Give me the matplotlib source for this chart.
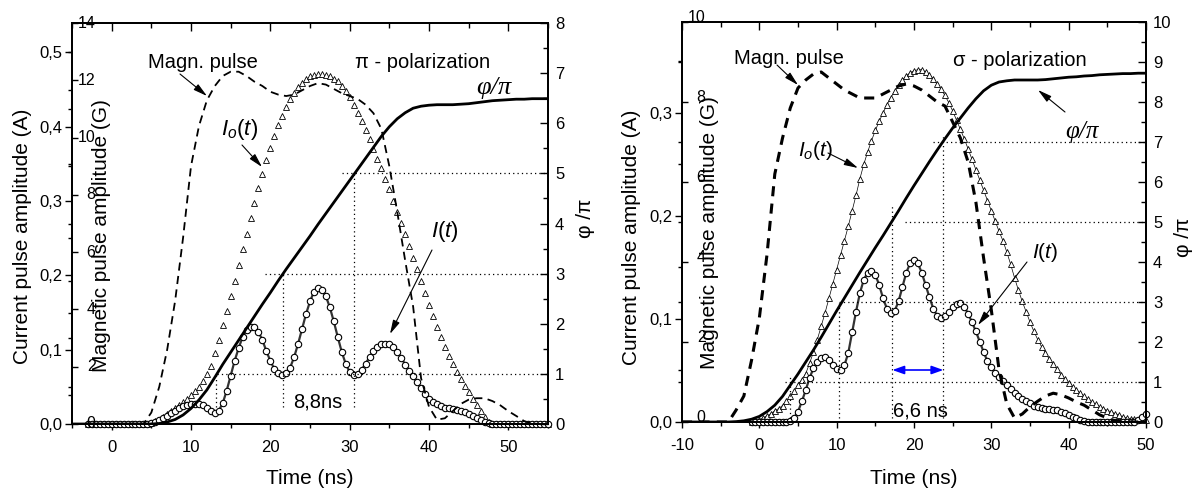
import numpy as np
import matplotlib
matplotlib.use('Agg')
import matplotlib.pyplot as plt
from matplotlib.ticker import MultipleLocator, FuncFormatter
from matplotlib.patches import FancyArrowPatch

plt.rcParams['font.family'] = ['Liberation Sans', 'DejaVu Sans']
plt.rcParams['mathtext.fontset'] = 'custom'
plt.rcParams['mathtext.rm'] = 'Liberation Sans'
plt.rcParams['mathtext.it'] = 'Liberation Sans:italic'
plt.rcParams['axes.linewidth'] = 1.2

W, H = 1196, 493

# ---------------- data: left panel (pi - polarization) ----------------
t_left_pts = np.arange(-3.0, 55.01, 0.5)
I0_left = [
    0, 0, 0, 0, 0, 0, 0, 0, 0, 0, 0, 0, 0, 0, 0, 0,
    0.002, 0.004, 0.006, 0.010, 0.014, 0.018, 0.022, 0.026, 0.030, 0.034,
    0.039, 0.044, 0.050, 0.058, 0.067, 0.078, 0.095, 0.113, 0.133, 0.152,
    0.172, 0.193, 0.214, 0.235, 0.256, 0.277, 0.298, 0.318, 0.337, 0.355,
    0.372, 0.388, 0.402, 0.415, 0.427, 0.437, 0.446, 0.453, 0.459, 0.464,
    0.468, 0.470, 0.471, 0.471, 0.470, 0.468, 0.465, 0.461, 0.455, 0.448,
    0.440, 0.430, 0.419, 0.408, 0.396, 0.383, 0.370, 0.357, 0.344, 0.330,
    0.316, 0.300, 0.285, 0.270, 0.256, 0.240, 0.224, 0.208, 0.192, 0.176,
    0.160, 0.145, 0.130, 0.117, 0.104, 0.092, 0.081, 0.070, 0.060, 0.051,
    0.043, 0.034, 0.025, 0.017, 0.009, 0.003,
    0, 0, 0, 0, 0, 0, 0, 0, 0, 0, 0, 0, 0, 0, 0]
I_left = [
    0, 0, 0, 0, 0, 0, 0, 0, 0, 0, 0, 0, 0, 0, 0, 0,
    0.001, 0.003, 0.005, 0.008, 0.011, 0.015, 0.018, 0.021, 0.024, 0.026,
    0.027, 0.027, 0.027, 0.025, 0.021, 0.017, 0.015, 0.018, 0.028, 0.045,
    0.065, 0.085, 0.102, 0.117, 0.127, 0.131, 0.130, 0.124, 0.113, 0.098,
    0.085, 0.074, 0.068, 0.066, 0.068, 0.076, 0.090, 0.108, 0.128, 0.148,
    0.165, 0.178, 0.183, 0.181, 0.172, 0.157, 0.138, 0.117, 0.097, 0.081,
    0.070, 0.066, 0.067, 0.073, 0.081, 0.090, 0.098, 0.104, 0.107, 0.108,
    0.107, 0.104, 0.097, 0.089, 0.080, 0.072, 0.064, 0.056, 0.048, 0.041,
    0.034, 0.030, 0.027, 0.024, 0.022, 0.021, 0.020, 0.019, 0.018, 0.016,
    0.014, 0.011, 0.008, 0.005, 0.003, 0.001,
    0, 0, 0, 0, 0, 0, 0, 0, 0, 0, 0, 0, 0, 0, 0]
t_left_line = np.arange(-5.0, 55.01, 1.0)
mag_left = [
    0, 0, 0, 0, 0, 0, 0, 0, 0,
    0.0, 0.4, 1.3, 2.6, 4.3, 6.5, 9.0, 10.4, 11.3, 11.8,
    12.15, 12.3, 12.3, 12.15, 11.95, 11.8, 11.6, 11.5, 11.45, 11.5,
    11.65, 11.8, 11.9, 11.85, 11.7, 11.55, 11.45, 11.35, 11.15, 10.85,
    10.3, 9.0, 7.4, 5.7, 4.1, 1.6, 0.6, 0.15, 0.2, 0.45,
    0.7, 0.85, 0.9, 0.9, 0.8, 0.65, 0.45, 0.28, 0.1, 0.02,
    0, 0]
phi_left = [
    0, 0, 0, 0, 0, 0, 0, 0, 0, 0,
    0.0, 0.01, 0.04, 0.09, 0.18, 0.31, 0.48, 0.68, 0.93, 1.19,
    1.43, 1.67, 1.91, 2.15, 2.39, 2.62, 2.86, 3.09, 3.31, 3.53,
    3.75, 3.98, 4.20, 4.42, 4.64, 4.86, 5.08, 5.30, 5.52, 5.74,
    5.93, 6.09, 6.21, 6.30, 6.34, 6.36, 6.37, 6.37, 6.37, 6.38,
    6.39, 6.41, 6.43, 6.45, 6.46, 6.47, 6.48, 6.48, 6.49, 6.49,
    6.49]

# ---------------- data: right panel (sigma - polarization) ----------------
t_right_pts = np.arange(-1.0, 50.01, 0.5)
I0_right = [
    0, 0.001, 0.002, 0.004, 0.006, 0.008, 0.011, 0.013, 0.016, 0.020,
    0.025, 0.030, 0.036, 0.041, 0.047, 0.057, 0.068, 0.080, 0.093, 0.106,
    0.120, 0.134, 0.148, 0.162, 0.176, 0.190, 0.205, 0.220, 0.236, 0.250,
    0.262, 0.273, 0.283, 0.292, 0.300, 0.308, 0.315, 0.321, 0.327, 0.332,
    0.336, 0.339, 0.341, 0.342, 0.342, 0.340, 0.337, 0.333, 0.328, 0.323,
    0.317, 0.310, 0.302, 0.293, 0.284, 0.275, 0.265, 0.255, 0.245, 0.235,
    0.225, 0.215, 0.205, 0.195, 0.185, 0.176, 0.165, 0.153, 0.140, 0.128,
    0.117, 0.107, 0.097, 0.088, 0.080, 0.073, 0.067, 0.061, 0.056, 0.051,
    0.046, 0.042, 0.038, 0.034, 0.031, 0.028, 0.025, 0.022, 0.019, 0.017,
    0.015, 0.013, 0.011, 0.010, 0.008, 0.007, 0.005, 0.004, 0.003, 0.003,
    0.002, 0.002, 0.002]
I_right = [
    0, 0, 0, 0, 0, 0, 0, 0, 0, 0,
    0.001, 0.004, 0.010, 0.020, 0.031, 0.043, 0.052, 0.058, 0.062, 0.063,
    0.060, 0.055, 0.051, 0.050, 0.055, 0.067, 0.087, 0.107, 0.125, 0.138,
    0.145, 0.147, 0.143, 0.133, 0.120, 0.110, 0.106, 0.108, 0.117, 0.131,
    0.145, 0.154, 0.157, 0.154, 0.145, 0.133, 0.121, 0.110, 0.103, 0.101,
    0.103, 0.107, 0.112, 0.115, 0.116, 0.112, 0.105, 0.097, 0.088, 0.078,
    0.068, 0.059, 0.053, 0.048, 0.044, 0.040, 0.036, 0.032, 0.028, 0.025,
    0.022, 0.020, 0.018, 0.016, 0.015, 0.014, 0.013, 0.013, 0.012, 0.012,
    0.010, 0.009, 0.007, 0.005, 0.004, 0.002, 0.001, 0, 0, 0,
    0, 0, 0, 0, 0, 0, 0, 0, 0, 0,
    0.002, 0.005, 0.008]
t_right_line = np.arange(-10.0, 50.01, 1.0)
mag_right = [
    0, 0, 0, 0, 0, 0, 0, 0.3, 0.65, 1.55,
    2.6, 4.2, 6.2, 7.1, 7.85, 8.35, 8.55, 8.7, 8.75, 8.6,
    8.45, 8.3, 8.2, 8.1, 8.1, 8.1, 8.2, 8.3, 8.4, 8.45,
    8.4, 8.3, 8.15, 8.0, 7.9, 7.5, 7.1, 6.5, 5.5, 4.1,
    2.8, 1.3, 0.45, 0.1, 0.2, 0.38, 0.52, 0.65, 0.72, 0.68,
    0.6, 0.5, 0.42, 0.3, 0.18, 0.1, 0.03, 0, 0, 0,
    0]
phi_right = [
    0, 0, 0, 0, 0, 0, 0, 0.01, 0.03, 0.07,
    0.14, 0.26, 0.42, 0.64, 0.92, 1.2, 1.5, 1.8, 2.12, 2.45,
    2.78, 3.1, 3.42, 3.74, 4.05, 4.36, 4.66, 4.97, 5.28, 5.6,
    5.91, 6.21, 6.51, 6.8, 7.08, 7.35, 7.6, 7.85, 8.08, 8.28,
    8.42, 8.5, 8.53, 8.55, 8.55, 8.55, 8.55, 8.56, 8.58, 8.6,
    8.62, 8.63, 8.65, 8.66, 8.68, 8.69, 8.7, 8.71, 8.71, 8.72,
    8.72]

# dotted guide lines (time of phase crossings, phase levels)
left_vline_t = [13.2, 21.6, 30.6]
left_vline_top = [1.0, 3.0, 5.0]
left_hline_phi = [1, 3, 5]
left_hline_start = [13.3, 19.3, 29.0]
right_vline_t = [4.0, 10.3, 17.2, 23.8]
right_vline_top = [1.12, 3.0, 5.4, 7.2]
right_hline_phi = [1, 3, 5, 7]
right_hline_start = [3.3, 10.3, 18.8, 22.4]

comma = FuncFormatter(lambda v, p: f'{v:.1f}'.replace('.', ','))
intfmt = FuncFormatter(lambda v, p: f'{v:.0f}')

fig = plt.figure(figsize=(W / 100, H / 100), dpi=100)


def make_panel(rect, xlim, cur_max, mag_max, phi_max, mag_va, cur_lab, mag_lab, phi_lab, xlab_y):
    ax = fig.add_axes(rect)
    ax.set_xlim(*xlim)
    ax.set_ylim(0, cur_max)
    ax.xaxis.set_major_locator(MultipleLocator(10))
    ax.xaxis.set_minor_locator(MultipleLocator(5))
    ax.xaxis.set_major_formatter(intfmt)
    ax.yaxis.set_major_locator(MultipleLocator(0.1))
    ax.yaxis.set_minor_locator(MultipleLocator(0.05))
    ax.yaxis.set_major_formatter(comma)
    ax.tick_params(axis='x', which='both', direction='out', top=False, labelsize=12, pad=7, width=1)
    ax.tick_params(axis='x', which='major', length=4.5)
    ax.tick_params(axis='x', which='minor', length=3)
    ax.tick_params(axis='y', which='both', direction='out', right=False, labelsize=12, pad=2, width=1)
    ax.tick_params(axis='y', which='major', length=5)
    ax.tick_params(axis='y', which='minor', length=3)
    ax.set_xlabel('Time (ns)', fontsize=15, va='center')
    ax.xaxis.set_label_coords(0.5, xlab_y)
    ax.set_ylabel('Current pulse amplitude (A)', fontsize=15, va='center')
    ax.yaxis.set_label_coords(*cur_lab)

    axm = ax.twinx()
    axm.set_ylim(0, mag_max)
    axm.yaxis.tick_left()
    axm.yaxis.set_label_position('left')
    axm.yaxis.set_major_locator(MultipleLocator(2))
    axm.yaxis.set_minor_locator(MultipleLocator(1))
    axm.yaxis.set_major_formatter(intfmt)
    axm.tick_params(axis='y', which='major', direction='in', length=4, width=1, labelsize=11.5, pad=-17)
    axm.tick_params(axis='y', which='minor', direction='out', length=3, width=1)
    axm.set_ylabel('Magnetic pulse amplitude (G)', fontsize=15, va='center')
    axm.yaxis.set_label_coords(*mag_lab)
    for lab in axm.get_yticklabels():
        lab.set_verticalalignment(mag_va)

    axp = ax.twinx()
    axp.set_ylim(0, phi_max)
    axp.yaxis.set_major_locator(MultipleLocator(1))
    axp.yaxis.set_minor_locator(MultipleLocator(0.5))
    axp.yaxis.set_major_formatter(intfmt)
    axp.tick_params(axis='y', which='major', direction='in', length=5.5, width=1, labelsize=12, pad=5)
    axp.tick_params(axis='y', which='minor', direction='in', length=3.5, width=1)
    axp.xaxis.set_visible(True)
    axp.xaxis.set_major_locator(MultipleLocator(10))
    axp.xaxis.set_minor_locator(MultipleLocator(5))
    axp.tick_params(axis='x', which='both', direction='in', bottom=False, top=True,
                    labelbottom=False, labeltop=False, width=1)
    axp.tick_params(axis='x', which='major', length=5.5)
    axp.tick_params(axis='x', which='minor', length=3.5)
    axp.set_ylabel('φ /π', fontsize=15, rotation=90, va='center')
    axp.yaxis.set_label_coords(*phi_lab)
    return ax, axm, axp


# ---------------- left panel ----------------
axL, axLm, axLp = make_panel([72 / W, 1 - 424 / H, 476 / W, 401 / H], (-5, 55), 0.5397, 14, 8, 'center',
                             (-0.105, 0.469), (0.063, 0.469), (1.078, 0.514), -0.135)
axL.plot(t_left_pts, I0_left, ls='none', marker='^', ms=4.8, mfc='white', mec='k', mew=0.6, clip_on=False)
axL.plot(t_left_pts, I_left, color='#333333', lw=1.6, marker='o', ms=4.6, mfc='white', mec='k', mew=0.8,
         clip_on=False)
axLm.plot(t_left_line, mag_left, color='k', lw=1.3, dashes=(4.5, 3.0))
axLp.plot(t_left_line, phi_left, color='k', lw=2.0)
axLp.vlines(left_vline_t, 0.34, left_vline_top, colors='k', lw=0.9, linestyles=(0, (1, 2.5)))
axLp.hlines(left_hline_phi, left_hline_start, 55, colors='k', lw=0.9, linestyles=(0, (1, 2.5)))

# ---------------- right panel ----------------
axR, axRm, axRp = make_panel([682 / W, 1 - 422 / H, 464 / W, 400 / H], (-10, 50), 0.3883, 10, 10, 'baseline',
                             (-0.108, 0.4625), (0.060, 0.4725), (1.080, 0.4625), -0.14)
axR.plot(t_right_pts, I0_right, color='k', lw=0.5, marker='^', ms=4.2, mfc='white', mec='k', mew=0.6,
         clip_on=False)
axR.plot(t_right_pts, I_right, color='#333333', lw=1.6, marker='o', ms=4.6, mfc='white', mec='k', mew=0.8,
         clip_on=False)
axRm.plot(t_right_line, mag_right, color='k', lw=2.2, dashes=(3.3, 2.4))
axRp.plot(t_right_line, phi_right, color='k', lw=2.0)
axRp.vlines(right_vline_t, 0.1, right_vline_top, colors='k', lw=0.9, linestyles=(0, (1, 2.5)))
axRp.hlines(right_hline_phi, right_hline_start, 50, colors='k', lw=0.9, linestyles=(0, (1, 2.5)))
axRp.annotate('', xy=(right_vline_t[3], 1.3), xytext=(right_vline_t[2], 1.3),
              arrowprops=dict(arrowstyle='<|-|>,head_length=0.7,head_width=0.25', color='#0000ff',
                              lw=1.2, shrinkA=0, shrinkB=0, mutation_scale=10))


# ---------------- annotations (figure pixel positions) ----------------
def ftext(x, y, s, **kw):
    fig.text(x / W, 1 - y / H, s, ha='center', va='center', **kw)


def farrow(x0, y0, x1, y1):
    fig.add_artist(FancyArrowPatch((x0 / W, 1 - y0 / H), (x1 / W, 1 - y1 / H), transform=fig.transFigure,
                                   arrowstyle='-|>,head_length=0.7,head_width=0.18', mutation_scale=12,
                                   lw=0.8, color='k', shrinkA=0, shrinkB=0))


# left
ftext(203, 62, 'Magn. pulse', fontsize=14.5)
farrow(180, 74, 207, 96)
ftext(240, 130, r'$I_o(t)$', fontsize=16)
farrow(242, 145, 262, 167)
ftext(423, 62, 'π - polarization', fontsize=14.5)
ftext(494, 88, 'φ/π', fontsize=19, family='Liberation Serif', style='italic')
ftext(445, 232, r'$I(t)$', fontsize=16)
farrow(432, 250, 390, 334)
ftext(318, 402, '8,8ns', fontsize=14.5)

# right
ftext(789, 59, 'Magn. pulse', fontsize=14.5)
farrow(777, 65, 798, 85)
ftext(815, 150, r'$I_o(t)$', fontsize=15)
farrow(828, 153, 858, 168)
ftext(1020, 60, 'σ - polarization', fontsize=14.5)
ftext(1082, 132, 'φ/π', fontsize=18, family='Liberation Serif', style='italic')
farrow(1065, 112, 1038, 90)
ftext(1045, 253, r'$I(t)$', fontsize=15)
farrow(1027, 262, 978, 325)
ftext(920, 411, '6,6 ns', fontsize=14.5)

fig.savefig('out.png', dpi=100)
